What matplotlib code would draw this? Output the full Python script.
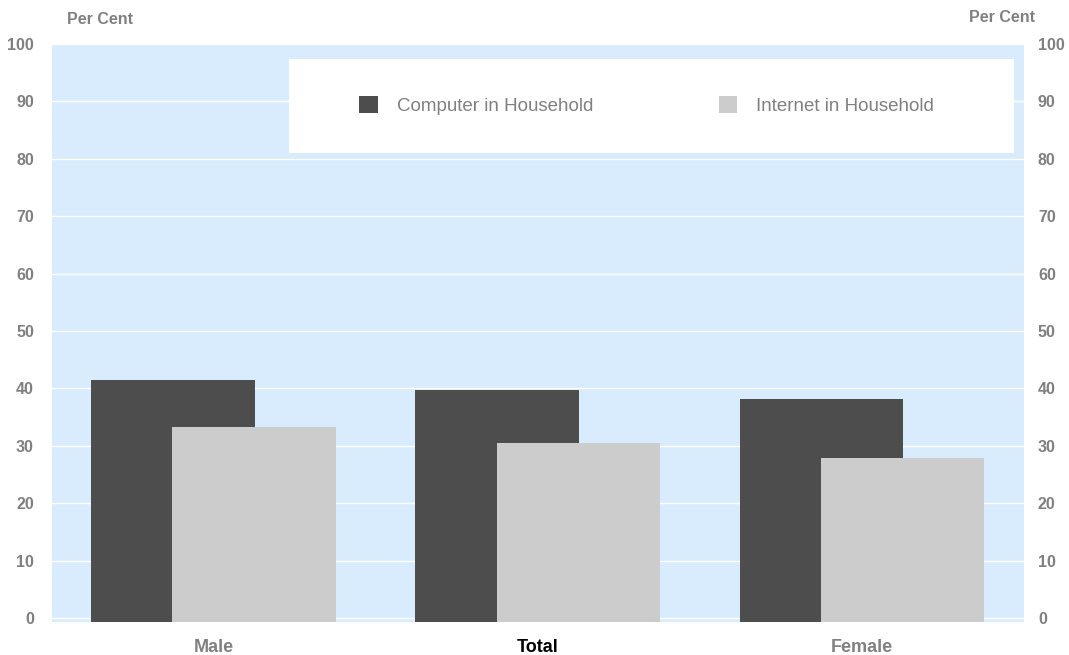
import numpy as np
import matplotlib.pyplot as plt
from matplotlib.patches import Rectangle

# values
categories = ['Male', 'Total', 'Female']
computer = [41.5, 39.7, 38.2]
internet = [33.3, 30.5, 27.9]
yticks = [0, 10, 20, 30, 40, 50, 60, 70, 80, 90, 100]

grey = '#808080'
plt.rcParams['font.family'] = ['Liberation Sans', 'DejaVu Sans']

fig = plt.figure(figsize=(10.69, 6.55), dpi=100)
ax = fig.add_axes([0.0486, 0.0504, 0.9093, 0.8825])
ax.set_facecolor('#D9ECFD')

ymin = -0.7
x = np.arange(len(categories))
w = 0.506
b1 = ax.bar(x - 0.125, np.array(computer) - ymin, w, bottom=ymin, color='#4D4D4D',
            zorder=2, label='Computer in Household')
b2 = ax.bar(x + 0.125, np.array(internet) - ymin, w, bottom=ymin, color='#CCCCCC',
            zorder=2.1, label='Internet in Household')

ax.set_xlim(-0.5, 2.5)
ax.set_ylim(ymin, 100)
ax.set_yticks(yticks)
ax.yaxis.grid(True, color='white', linewidth=1)
ax.set_axisbelow(True)
for s in ax.spines.values():
    s.set_visible(False)
ax.tick_params(axis='y', length=0, pad=13, labelsize=11.5, labelcolor=grey)
for t in ax.get_yticklabels():
    t.set_fontweight('bold')

ax.set_xticks(x)
ax.set_xticklabels(categories, fontsize=13, fontweight='bold')
ax.tick_params(axis='x', length=0, pad=12)
for t, c in zip(ax.get_xticklabels(), [grey, 'black', grey]):
    t.set_color(c)

# right axis
ax2 = ax.twinx()
ax2.set_ylim(ymin, 100)
ax2.set_yticks(yticks)
for s in ax2.spines.values():
    s.set_visible(False)
ax2.tick_params(axis='y', length=0, pad=10, labelsize=11.5, labelcolor=grey)
for t in ax2.get_yticklabels():
    t.set_fontweight('bold')

# legend box
ax2.add_patch(Rectangle((0.244, 0.811), 0.746, 0.163, transform=ax.transAxes,
                        facecolor='white', edgecolor='none', zorder=3))
leg = ax2.legend(handles=[b1, b2], loc='center left', bbox_to_anchor=(0.316, 0.894),
                 bbox_transform=ax.transAxes, ncol=2, frameon=False, fontsize=13.5,
                 handlelength=1.0, handleheight=1.0, handletextpad=1.0,
                 columnspacing=6.7, borderpad=0, borderaxespad=0)
leg.set_zorder(4)
for t in leg.get_texts():
    t.set_color(grey)

fig.text(100 / 1069, 1 - 20 / 655, 'Per Cent', ha='center', va='center',
         fontsize=11.5, fontweight='bold', color=grey)
fig.text(1002 / 1069, 1 - 18 / 655, 'Per Cent', ha='center', va='center',
         fontsize=11.5, fontweight='bold', color=grey)

fig.savefig('out.png', dpi=100)
